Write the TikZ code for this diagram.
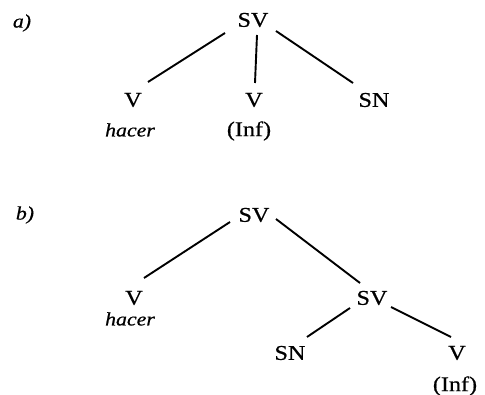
\documentclass[tikz,border=0pt]{standalone}
\usepackage{fontspec}
\setmainfont{Liberation Serif}[FakeStretch=1.15,FakeBold=0.6]
\usetikzlibrary{calc}
\begin{document}
\begin{tikzpicture}[x=1pt,y=-1pt,
  lab/.style={inner sep=0pt,font=\fontsize{21}{23}\selectfont},
  itlab/.style={inner sep=0pt,font=\fontsize{19}{21}\selectfont\itshape},
  edge/.style={line width=1.9pt}]
\useasboundingbox (0,0) rectangle (485,395);
% a)
\node[itlab] (la) at (22,23) {a)};
\node[lab] (sva) at (253,20) {SV};
\node[lab] (va) at (133,100) {V};
\node[lab] (vb) at (254,100) {V};
\node[lab] (sna) at (374,100) {SN};
\node[itlab] (hacera) at (130,130) {hacer};
\node[lab] (infa) at (249,131) {(Inf)};
\draw[edge] ($(sva)+(-28,13)$) -- ($(va)+(15,-18)$);
\draw[edge] ($(sva)+(4,15)$) -- ($(vb)+(1,-17)$);
\draw[edge] ($(sva)+(23,11)$) -- ($(sna)+(-21,-17)$);
% b)
\node[itlab] (lb) at (25,215) {b)};
\node[lab] (svb) at (254,215) {SV};
\node[lab] (vc) at (134,298) {V};
\node[lab] (svc) at (372,298) {SV};
\node[lab] (snb) at (290,353) {SN};
\node[lab] (vd) at (457,353) {V};
\node[itlab] (hacerb) at (130,319) {hacer};
\node[lab] (infb) at (455,386) {(Inf)};
\draw[edge] ($(svb)+(-24,7)$) -- ($(vc)+(10,-20)$);
\draw[edge] ($(svb)+(22,4)$) -- ($(svc)+(-12,-15)$);
\draw[edge] ($(svc)+(-22,10)$) -- ($(snb)+(17,-16)$);
\draw[edge] ($(svc)+(19,9)$) -- ($(vd)+(-6,-16)$);
\end{tikzpicture}
\end{document}
